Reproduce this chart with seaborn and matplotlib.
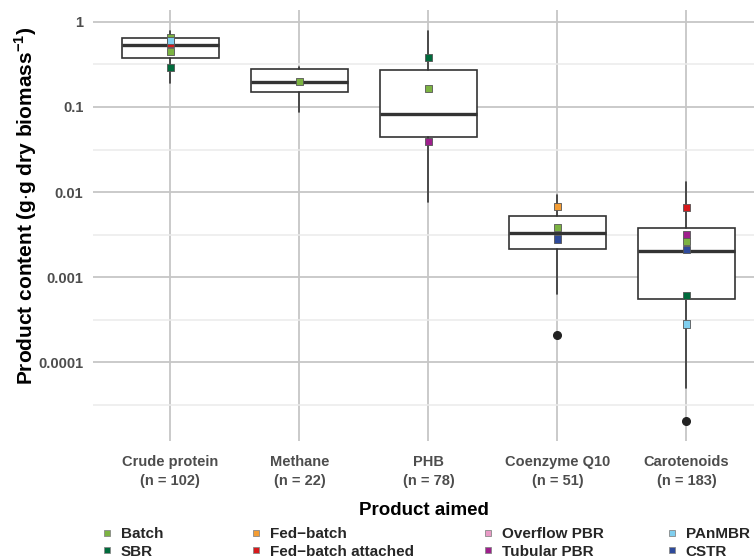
import matplotlib as mpl
mpl.use("Agg")
import matplotlib.pyplot as plt
from matplotlib.lines import Line2D
from matplotlib.ticker import FixedLocator, FixedFormatter, NullFormatter
import numpy as np
import pandas as pd
import seaborn as sns

# ---- data ----
products = ["Crude protein", "Methane", "PHB", "Coenzyme Q10", "Carotenoids"]
n_obs = [102, 22, 78, 51, 183]

box_q1 = [0.377, 0.149, 0.0444, 0.00211, 0.000556]
box_med = [0.537, 0.199, 0.0828, 0.0033, 0.0020]
box_q3 = [0.65, 0.277, 0.275, 0.00518, 0.00377]
whisk_lo = [0.19, 0.088, 0.0077, 0.00063, 0.000049]
whisk_hi = [0.78, 0.298, 0.79, 0.0092, 0.013]
outliers = [[], [], [], [0.000208], [0.000020]]

reactors = ["Batch", "SBR", "Fed\u2212batch", "Fed\u2212batch attached",
            "Overflow PBR", "Tubular PBR", "PAnMBR", "CSTR"]
reactor_colors = ["#7CB342", "#006B3C", "#F39C33", "#D7191C",
                  "#E99AC6", "#9E1F8C", "#80CFEF", "#2E4A9B"]

pt_product = ["Crude protein", "Crude protein", "Crude protein", "Crude protein", "Crude protein",
              "Methane",
              "PHB", "PHB", "PHB",
              "Coenzyme Q10", "Coenzyme Q10", "Coenzyme Q10",
              "Carotenoids", "Carotenoids", "Carotenoids", "Carotenoids", "Carotenoids", "Carotenoids"]
pt_reactor = ["Batch", "Fed\u2212batch attached", "PAnMBR", "Batch", "SBR",
              "Batch",
              "SBR", "Batch", "Tubular PBR",
              "Fed\u2212batch", "Batch", "CSTR",
              "Fed\u2212batch attached", "Tubular PBR", "Batch", "CSTR", "SBR", "PAnMBR"]
pt_value = [0.66, 0.555, 0.60, 0.447, 0.29,
            0.20,
            0.384, 0.166, 0.039,
            0.0067, 0.0038, 0.0028,
            0.0066, 0.0032, 0.0026, 0.0021, 0.0006, 0.00028]

y_ticks = [1e-4, 1e-3, 1e-2, 1e-1, 1]
y_ticklabels = ["0.0001", "0.001", "0.01", "0.1", "1"]

# ---- style ----
sns.set_theme(style="white")
plt.rcParams["font.family"] = ["Liberation Sans", "DejaVu Sans"]
plt.rcParams["mathtext.fontset"] = "custom"
plt.rcParams["mathtext.bf"] = "Liberation Sans:bold"
plt.rcParams["mathtext.rm"] = "Liberation Sans:bold"

W, H = 754, 559
fig = plt.figure(figsize=(W / 100, H / 100), dpi=100)
ax = fig.add_axes([93 / W, 1 - 441 / H, (W - 93) / W, 431 / H])
ax.set_yscale("log")

major_grid = "#C6C6C6"
minor_grid = "#EBEBEB"
edge = "#333333"

# gridlines
ax.yaxis.set_major_locator(FixedLocator(y_ticks))
ax.yaxis.set_major_formatter(FixedFormatter(y_ticklabels))
ax.yaxis.set_minor_locator(FixedLocator([10 ** (k - 0.5) for k in range(-5, 2)]))
ax.yaxis.set_minor_formatter(NullFormatter())
ax.grid(axis="y", which="major", color=major_grid, lw=1.3, zorder=0)
ax.grid(axis="y", which="minor", color=minor_grid, lw=1.1, zorder=0)
ax.grid(axis="x", which="major", color=major_grid, lw=1.3, zorder=0)
ax.set_axisbelow(True)

# boxes
stats = []
for i, p in enumerate(products):
    stats.append({"med": box_med[i], "q1": box_q1[i], "q3": box_q3[i],
                  "whislo": whisk_lo[i], "whishi": whisk_hi[i], "fliers": outliers[i]})
ax.bxp(stats, positions=range(len(products)), widths=0.75, patch_artist=True,
       showcaps=False,
       boxprops=dict(facecolor="white", edgecolor=edge, lw=1.2),
       medianprops=dict(color=edge, lw=2.4, solid_capstyle="butt"),
       whiskerprops=dict(color=edge, lw=1.2),
       flierprops=dict(marker="o", markerfacecolor="#222222", markeredgecolor="#222222",
                       markersize=5.5),
       zorder=2)

# reactor-type points
pts = pd.DataFrame({"product": pt_product, "reactor": pt_reactor, "value": pt_value})
pts["xpos"] = pts["product"].map({p: i for i, p in enumerate(products)})
sns.scatterplot(data=pts, x="xpos", y="value", hue="reactor", hue_order=reactors,
                palette=dict(zip(reactors, reactor_colors)), marker="s", s=26,
                edgecolor="#555555", linewidth=0.6, legend=False, ax=ax, zorder=3)

ax.set_xlim(-0.6, 4.524)
ax.set_ylim(10 ** -4.929, 10 ** 0.141)
ax.set_xticks(range(len(products)))
ax.set_xticklabels([f"{p}\n(n = {n})" for p, n in zip(products, n_obs)], linespacing=1.45)
ax.tick_params(axis="both", length=0, labelsize=10.5, labelcolor="#4D4D4D")
ax.xaxis.set_tick_params(pad=10)
ax.yaxis.set_tick_params(pad=7)
for lab in ax.get_xticklabels() + ax.get_yticklabels():
    lab.set_fontweight("bold")
for s in ax.spines.values():
    s.set_visible(False)

ax.set_xlabel("Product aimed", fontsize=13.5, fontweight="bold", color="black", labelpad=10)
ax.set_ylabel(r"Product content (g$\cdot$g dry biomass$^{\mathbf{-1}}$)",
              fontsize=15, fontweight="bold", color="black")
ax.yaxis.set_label_coords(-0.082, 0.545)

# legend: four columns placed separately
col_left = [101, 250, 482, 666]
for c in range(4):
    handles = []
    for r in (reactors[2 * c], reactors[2 * c + 1]):
        col = reactor_colors[reactors.index(r)]
        handles.append(Line2D([], [], ls="none", marker="s", markersize=5,
                              markerfacecolor=col, markeredgecolor="#888888",
                              markeredgewidth=0.6, label=r))
    fig.legend(handles=handles, loc="upper left", bbox_to_anchor=(col_left[c] / W, 1 - 527 / H),
               frameon=False, borderpad=0, borderaxespad=0, handlelength=0.8,
               handletextpad=0.5, labelspacing=0.25,
               prop={"weight": "bold", "size": 11})

fig.savefig("out.png", dpi=100)
